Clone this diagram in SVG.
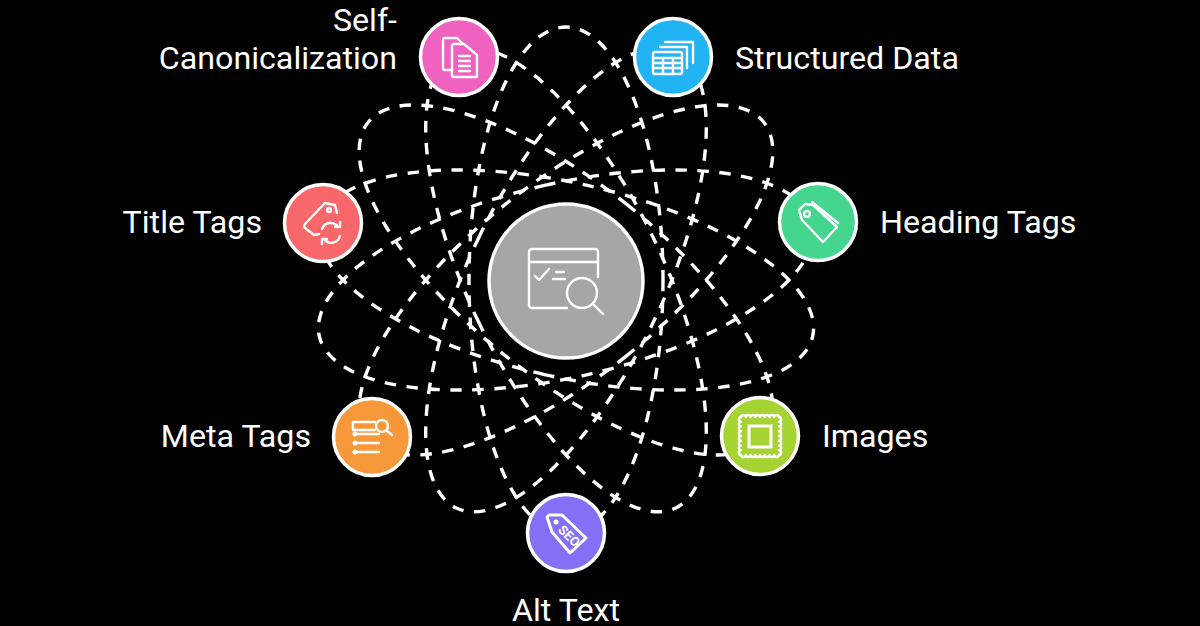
<svg xmlns="http://www.w3.org/2000/svg" width="1200" height="626" viewBox="0 0 1200 626">
<style>
.orb{fill:none;stroke:#fff;stroke-width:3.4;stroke-dasharray:11.5 10.5}
.n{stroke:#fff;stroke-width:3.5}
.i{fill:none;stroke:#fff;stroke-width:2.4;stroke-linecap:round;stroke-linejoin:round}
.t{font-family:Roboto,"Liberation Sans",sans-serif;font-size:32.2px;fill:#fff}
</style>
<rect width="1200" height="626" fill="#000"/>
<g id="connectors">
<ellipse class="orb" cx="566" cy="280" rx="97" ry="253"/>
<ellipse class="orb" cx="566" cy="280" rx="97" ry="253" transform="rotate(51.43 566 280)"/>
<ellipse class="orb" cx="566" cy="280" rx="97" ry="253" transform="rotate(102.86 566 280)"/>
<ellipse class="orb" cx="566" cy="280" rx="97" ry="253" transform="rotate(154.29 566 280)"/>
<ellipse class="orb" cx="566" cy="280" rx="97" ry="253" transform="rotate(205.71 566 280)"/>
<ellipse class="orb" cx="566" cy="280" rx="97" ry="253" transform="rotate(257.14 566 280)"/>
<ellipse class="orb" cx="566" cy="280" rx="97" ry="253" transform="rotate(308.57 566 280)"/>
</g>
<g id="hub">
<circle class="n" cx="566" cy="281" r="77" fill="#a6a6a6"/>
<path class="i" d="M567 308H532a3 3 0 0 1-3-3V252a3 3 0 0 1 3-3h63a3 3 0 0 1 3 3v25M529 262H598M535 276l4 4 10-11M556 272h8M553 279h12"/>
<circle class="i" cx="582" cy="293" r="15"/>
<path class="i" d="M593 304l10 10"/>
</g>
<g id="self-canonicalization">
<circle class="n" cx="459" cy="57" r="38.5" fill="#f062c0"/>
<path class="i" d="M452 70h-7a2 2 0 0 1-2-2V40a2 2 0 0 1 2-2h12l6 6"/>
<path class="i" d="M452 46a2 2 0 0 1 2-2h10l13 11v21a1 1 0 0 1-1 1h-22a2 2 0 0 1-2-2zM459 56h11M459 61h11M459 66h11M459 71h11"/>
<text class="t" x="397" y="31" text-anchor="end">Self-</text>
<text class="t" x="397" y="69" text-anchor="end">Canonicalization</text>
</g>
<g id="structured-data">
<circle class="n" cx="673" cy="57" r="38.5" fill="#22b3f5"/>
<path class="i" d="M653 54a2 2 0 0 1 2-2h25a2 2 0 0 1 2 2v18a2 2 0 0 1-2 2h-25a2 2 0 0 1-2-2zM653 58h29M653 63h29M653 68h29M663 58v16M673 58v16M660 47h27v21M665 42h28v21"/>
<text class="t" x="735" y="69">Structured Data</text>
</g>
<g id="heading-tags">
<circle class="n" cx="818" cy="222" r="38.5" fill="#44d68f"/>
<path class="i" d="M799 210l6-6 8 1 24 22-14 15-21-22z"/>
<circle class="i" cx="807" cy="214" r="3"/>
<path class="i" d="M812 202l26 21"/>
<text class="t" x="880" y="233">Heading Tags</text>
</g>
<g id="title-tags">
<circle class="n" cx="323" cy="223" r="38.5" fill="#f8686a"/>
<path class="i" d="M305 224l20-21 10 2 2 8M305 224a3 3 0 0 0 0 4l9 7 5-1"/>
<circle class="i" cx="329" cy="210" r="2"/>
<path class="i" d="M322 229a9 9 0 0 1 16-2M340 222v5h-5M340 236a9 9 0 0 1-16 3M322 244v-5h5"/>
<text class="t" x="262" y="233" text-anchor="end">Title Tags</text>
</g>
<g id="meta-tags">
<circle class="n" cx="372" cy="437" r="38.5" fill="#f7983a"/>
<path class="i" d="M353 422h22M353 430h22M353 422v8M354 434h25M354 443h25M354 452h25"/>
<circle cx="355" cy="434" r="2.5" fill="#fff"/>
<circle cx="355" cy="443" r="2.5" fill="#fff"/>
<circle cx="355" cy="452" r="2.5" fill="#fff"/>
<circle class="i" cx="382" cy="426" r="6"/>
<path class="i" d="M387 431l5 4"/>
<text class="t" x="311" y="447" text-anchor="end">Meta Tags</text>
</g>
<g id="images">
<circle class="n" cx="760" cy="436" r="38.5" fill="#a5d331"/>
<path class="i" d="M741 417a2.4 2.4 0 0 1 4.75 0a2.4 2.4 0 0 1 4.75 0a2.4 2.4 0 0 1 4.75 0a2.4 2.4 0 0 1 4.75 0a2.4 2.4 0 0 1 4.75 0a2.4 2.4 0 0 1 4.75 0a2.4 2.4 0 0 1 4.75 0a2.4 2.4 0 0 1 4.75 0a2.4 2.4 0 0 1 0 4.75a2.4 2.4 0 0 1 0 4.75a2.4 2.4 0 0 1 0 4.75a2.4 2.4 0 0 1 0 4.75a2.4 2.4 0 0 1 0 4.75a2.4 2.4 0 0 1 0 4.75a2.4 2.4 0 0 1 0 4.75a2.4 2.4 0 0 1 0 4.75a2.4 2.4 0 0 1-4.75 0a2.4 2.4 0 0 1-4.75 0a2.4 2.4 0 0 1-4.75 0a2.4 2.4 0 0 1-4.75 0a2.4 2.4 0 0 1-4.75 0a2.4 2.4 0 0 1-4.75 0a2.4 2.4 0 0 1-4.75 0a2.4 2.4 0 0 1-4.75 0a2.4 2.4 0 0 1 0-4.75a2.4 2.4 0 0 1 0-4.75a2.4 2.4 0 0 1 0-4.75a2.4 2.4 0 0 1 0-4.75a2.4 2.4 0 0 1 0-4.75a2.4 2.4 0 0 1 0-4.75a2.4 2.4 0 0 1 0-4.75a2.4 2.4 0 0 1 0-4.75z"/>
<rect x="749" y="426" width="22" height="21" fill="none" stroke="#fff" stroke-width="3"/>
<text class="t" x="822" y="447">Images</text>
</g>
<g id="alt-text">
<circle class="n" cx="566" cy="533" r="38.5" fill="#8570f5"/>
<path class="i" style="stroke-width:3" d="M547 517l2-2 13 0 24 23-16 15-18-21z"/>
<circle cx="556" cy="522" r="2.5" fill="#fff"/>
<text x="0" y="4.5" transform="translate(569 536) rotate(44)" text-anchor="middle" font-family="Roboto,'Liberation Sans',sans-serif" font-size="13" font-weight="700" fill="#fff">SEO</text>
<text class="t" x="566" y="621" text-anchor="middle">Alt Text</text>
</g>
</svg>
